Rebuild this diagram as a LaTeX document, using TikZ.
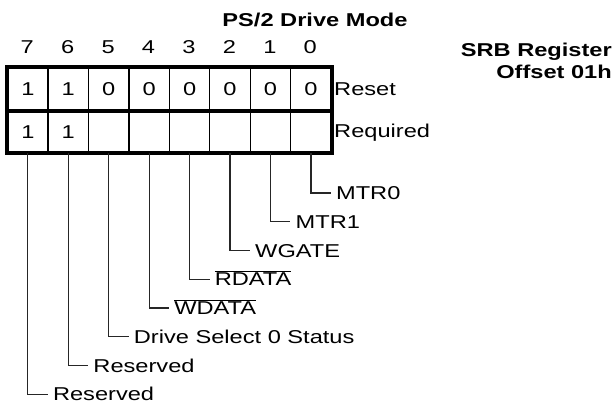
\documentclass[tikz,border=0pt]{standalone}
\usepackage{fontspec}
\setmainfont{Liberation Sans}[FakeStretch=1.27]
\usetikzlibrary{calc}
\begin{document}
\begin{tikzpicture}[x=1pt,y=-1pt,
  txt/.style={font=\fontsize{18.6}{20}\selectfont, inner sep=0pt, text height=13.3pt, text depth=0pt},
  btxt/.style={txt, font=\fontsize{18.6}{20}\selectfont\bfseries},
  cell/.style={txt, draw, line width=1.2pt, minimum width=40.44pt, minimum height=42.5pt, anchor=north west},
  leader/.style={draw, line width=1.2pt, black!85},
  lbl/.style={txt, anchor=west, inner xsep=5pt}]
\useasboundingbox (0,0) rectangle (616,404);
% title and register name
\node[btxt] (title) at (315,20) {PS/2 Drive Mode};
\node[btxt, anchor=east] (srb) at (612,50) {SRB Register};
\node[btxt, anchor=east] (off) at (612,72) {Offset 01h};
% bit numbers and cells
\foreach \b [count=\i from 0] in {7,6,5,4,3,2,1,0} {
  \node[txt] (h\b) at (27.2+40.44*\i, 47) {\b};
}
\foreach \b/\v [count=\i from 0] in {7/1,6/1,5/0,4/0,3/0,2/0,1/0,0/0} {
  \node[cell] (r\b) at (7+40.44*\i, 67) {\v};
}
\foreach \b/\v [count=\i from 0] in {7/1,6/1,5/,4/,3/,2/,1/,0/} {
  \node[cell] (q\b) at (7+40.44*\i, 109.5) {\v};
}
\draw[line width=3.6pt] (r7.north west) rectangle (q0.south east);
\draw[line width=3.6pt] (r7.south west) -- (r0.south east);
\node[txt, anchor=west] (reset) at (334,88.5) {Reset};
\node[txt, anchor=west] (req) at (334,131) {Required};
% field labels
\node[lbl] (l0) at ($(q0.south)+(20,39.7)$) {MTR0};
\node[lbl] (l1) at ($(q1.south)+(20,68.5)$) {MTR1};
\node[lbl] (l2) at ($(q2.south)+(20,97.2)$) {WGATE};
\node[lbl] (l3) at ($(q3.south)+(20,126)$) {$\overline{\hbox{RDATA}}$};
\node[lbl] (l4) at ($(q4.south)+(20,154.7)$) {$\overline{\hbox{WDATA}}$};
\node[lbl] (l5) at ($(q5.south)+(20,183.5)$) {Drive Select 0 Status};
\node[lbl] (l6) at ($(q6.south)+(20,212.2)$) {Reserved};
\node[lbl] (l7) at ($(q7.south)+(20,241)$) {Reserved};
\foreach \b in {0,...,7} {
  \draw[leader] (q\b.south) |- (l\b.west);
}
\end{tikzpicture}
\end{document}
